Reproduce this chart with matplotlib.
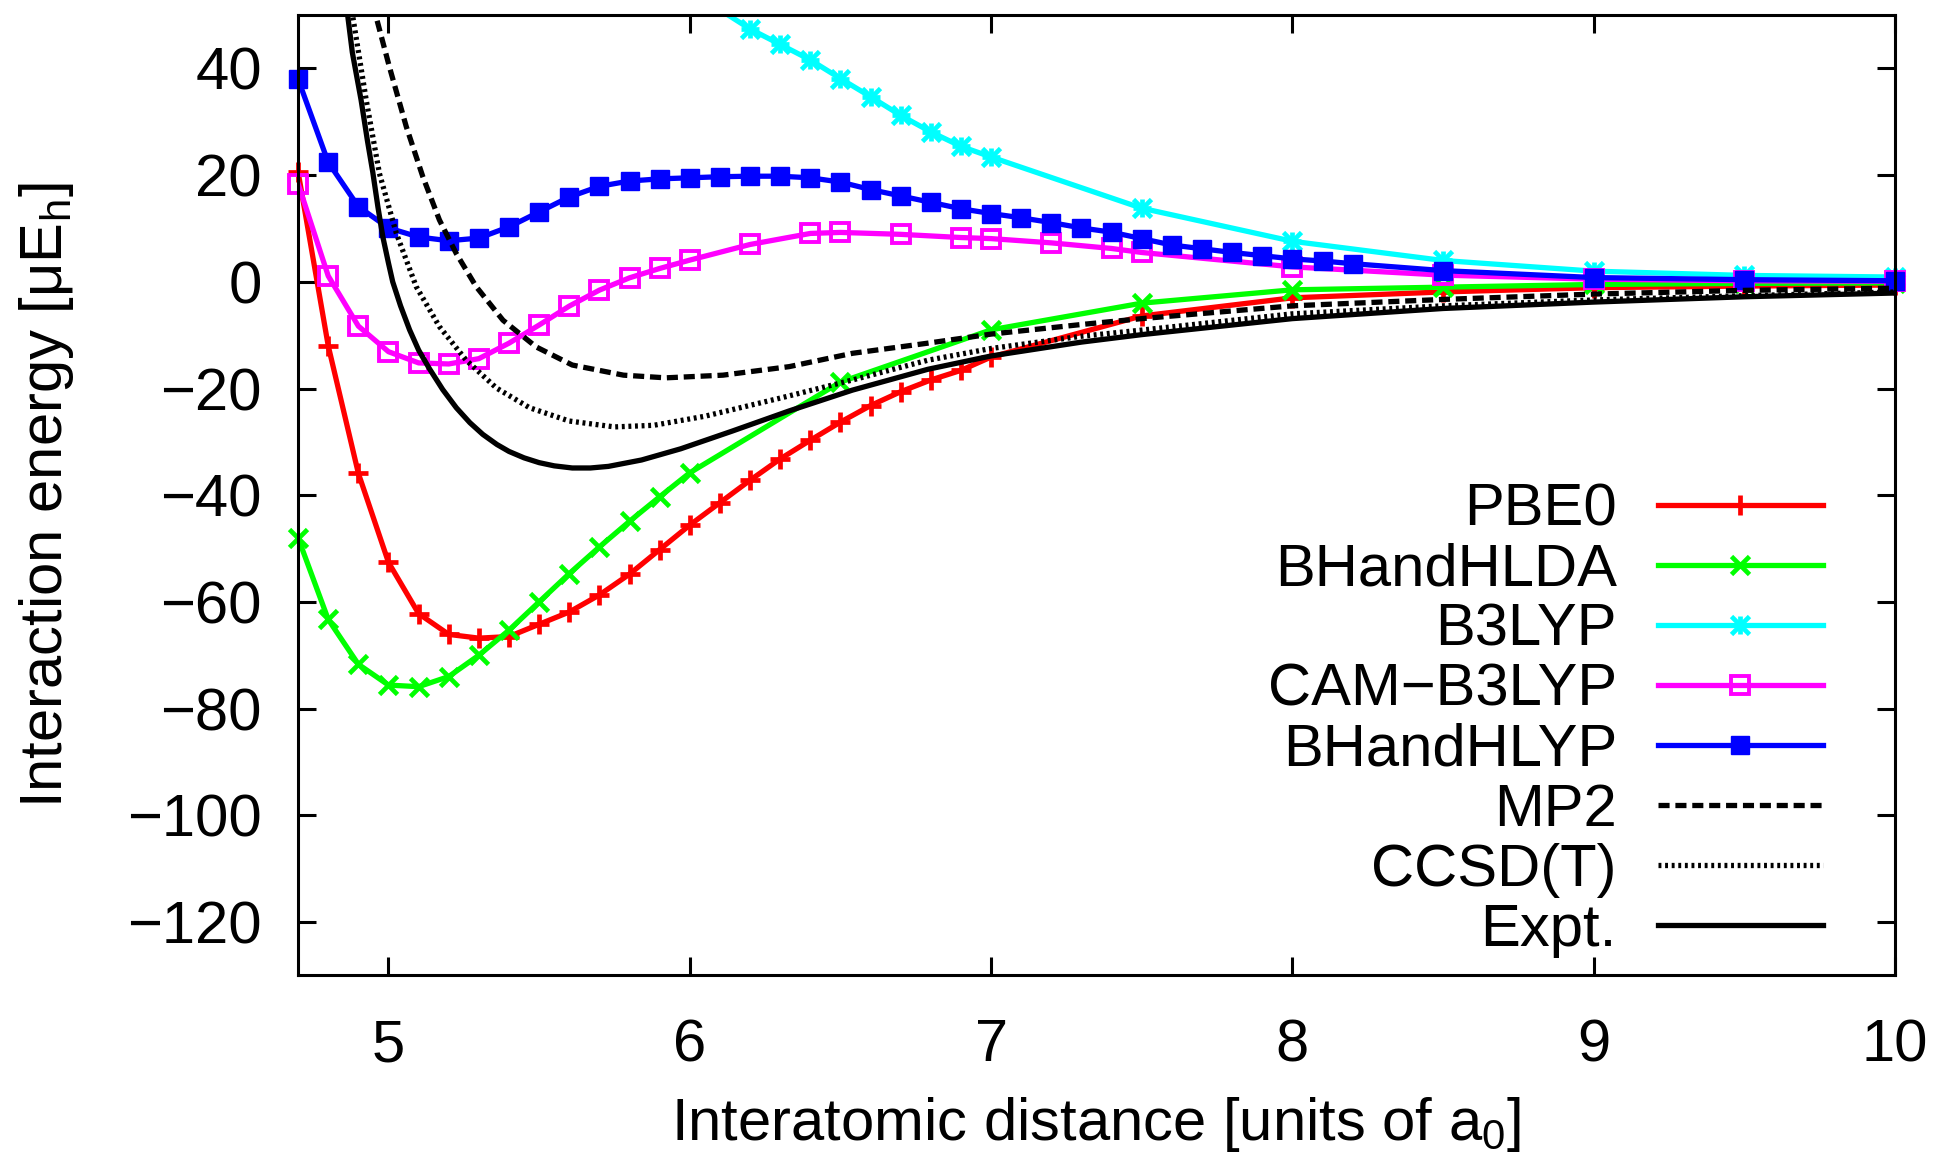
import numpy as np
import matplotlib
matplotlib.use("Agg")
import matplotlib.pyplot as plt
from matplotlib.lines import Line2D
from matplotlib.legend_handler import HandlerTuple

plt.rcParams['font.family'] = ['Liberation Sans', 'DejaVu Sans']
plt.rcParams['font.size'] = 43
plt.rcParams['axes.linewidth'] = 2.2

# ---------- dane ----------
x_pbe0 = [4.7, 4.8, 4.9, 5.0, 5.1, 5.2, 5.3, 5.4, 5.5, 5.6, 5.7, 5.8, 5.9, 6.0,
          6.1, 6.2, 6.3, 6.4, 6.5, 6.6, 6.7, 6.8, 6.9, 7.0, 7.5, 8.0, 8.5, 9.0, 9.5, 10.0]
y_pbe0 = [20.6, -12.0, -35.9, -52.6, -62.2, -66.1, -66.8, -66.5, -64.2, -61.9, -58.7, -54.8,
          -50.2, -45.6, -41.4, -37.2, -33.2, -29.7, -26.3, -23.2, -20.6, -18.4, -16.6, -14.1,
          -6.4, -3.0, -1.9, -1.1, -0.8, -0.6]

x_bhhlda = [4.7, 4.8, 4.9, 5.0, 5.1, 5.2, 5.3, 5.4, 5.5, 5.6, 5.7, 5.8, 5.9, 6.0,
            6.5, 7.0, 7.5, 8.0, 8.5, 9.0, 9.5, 10.0]
y_bhhlda = [-48.0, -63.3, -71.7, -75.6, -75.9, -74.0, -70.0, -65.3, -60.0, -54.7, -49.7,
            -44.9, -40.3, -35.8, -18.8, -9.0, -4.0, -1.5, -1.0, -0.5, -0.3, -0.2]

x_b3lyp = [6.1, 6.2, 6.3, 6.4, 6.5, 6.6, 6.7, 6.8, 6.9, 7.0, 7.5, 8.0, 8.5, 9.0, 9.5, 10.0]
y_b3lyp = [51.0, 47.4, 44.5, 41.6, 38.1, 34.7, 31.2, 28.1, 25.4, 23.4, 13.8, 7.6, 4.0, 2.0, 1.2, 0.9]

x_cam = [4.7, 4.8, 4.9, 5.0, 5.1, 5.2, 5.3, 5.4, 5.5, 5.6, 5.7, 5.8, 5.9, 6.0,
         6.2, 6.4, 6.5, 6.7, 6.9, 7.0, 7.2, 7.4, 7.5, 8.0, 8.5, 9.0, 9.5, 10.0]
y_cam = [18.4, 1.1, -8.3, -13.1, -15.2, -15.4, -14.4, -11.5, -8.1, -4.55, -1.56, 0.75, 2.5,
         4.07, 7.0, 9.07, 9.26, 8.9, 8.3, 8.1, 7.3, 6.25, 5.5, 2.8, 1.25, 0.5, 0.2, 0.1]

x_bhhlyp = [4.7, 4.8, 4.9, 5.0, 5.1, 5.2, 5.3, 5.4, 5.5, 5.6, 5.7, 5.8, 5.9, 6.0,
            6.1, 6.2, 6.3, 6.4, 6.5, 6.6, 6.7, 6.8, 6.9, 7.0, 7.1, 7.2, 7.3, 7.4,
            7.5, 7.6, 7.7, 7.8, 7.9, 8.0, 8.1, 8.2, 8.5, 9.0, 9.5, 10.0]
y_bhhlyp = [38.0, 22.4, 14.1, 10.1, 8.4, 7.7, 8.2, 10.3, 13.1, 15.9, 17.9, 18.9, 19.3, 19.5,
            19.7, 19.8, 19.8, 19.5, 18.7, 17.3, 16.1, 14.9, 13.7, 12.8, 12.0, 11.1, 10.1, 9.3,
            8.1, 6.9, 6.2, 5.5, 4.9, 4.3, 3.9, 3.4, 2.1, 0.8, 0.4, 0.2]

x_mp2 = [4.948, 5.003, 5.059, 5.114, 5.169, 5.225, 5.291, 5.38, 5.49, 5.61, 5.78, 5.92,
         6.11, 6.33, 6.54, 6.79, 7.0, 7.3, 7.5, 8.0, 8.5, 9.0, 9.5, 10.0]
y_mp2 = [52.0, 40.3, 29.1, 19.7, 11.6, 5.3, -0.9, -7.2, -12.2, -15.6, -17.5, -18.0,
         -17.5, -15.9, -13.4, -11.5, -9.8, -8.0, -6.9, -4.5, -3.3, -2.3, -1.6, -1.2]

x_ccsdt = [4.875, 4.926, 4.970, 5.026, 5.092, 5.169, 5.258, 5.358, 5.468, 5.60, 5.75, 5.88,
           6.05, 6.30, 6.54, 6.79, 7.0, 7.3, 7.5, 8.0, 8.5, 9.0, 9.5, 10.0]
y_ccsdt = [52.0, 34.1, 20.3, 9.1, -0.9, -8.4, -14.7, -19.9, -23.6, -26.1, -27.2, -26.9,
           -25.2, -21.8, -18.4, -14.7, -12.5, -10.2, -9.05, -6.0, -4.5, -3.4, -2.6, -1.9]

x_expt = [4.86, 4.88, 4.909, 4.93, 4.948, 4.965, 4.981, 5.0, 5.014, 5.04, 5.07, 5.10,
          5.136, 5.18, 5.225, 5.27, 5.313, 5.36, 5.40, 5.45, 5.50, 5.55, 5.61, 5.67,
          5.73, 5.84, 5.97, 6.14, 6.33, 6.54, 6.79, 7.0, 7.3, 7.5, 8.0, 8.5, 9.0, 9.5, 10.0]
y_expt = [52.0, 43.0, 34.1, 26.5, 20.5, 14.0, 8.5, 3.5, 0.0, -4.5, -9.0, -12.8,
          -16.3, -20.2, -23.6, -26.4, -28.6, -30.5, -31.8, -33.0, -33.9, -34.5, -34.9, -34.9,
          -34.6, -33.4, -31.3, -28.0, -24.2, -20.3, -16.4, -13.9, -11.3, -9.9, -6.9, -5.0,
          -3.8, -2.8, -2.1]

x_ticks = [5, 6, 7, 8, 9, 10]
y_ticks = [-120, -100, -80, -60, -40, -20, 0, 20, 40]

# ---------- wykres ----------
x_min, x_max = 4.7, 10.0
y_min, y_max = -130, 50
lw = 3.8

fig = plt.figure(figsize=(19.42, 11.62), dpi=100)
ax = fig.add_axes([0.1535, 0.1607, 0.8223, 0.8263])


def series(x, y, color, markers, ms, mew, mfc=None):
    x = np.asarray(x)
    y = np.asarray(y)
    ax.plot(x, y, color=color, lw=lw)
    inside = y <= y_max
    for m in markers:
        ax.plot(x[inside], y[inside], ls='none', marker=m, ms=ms, mew=mew,
                color=color, mfc=mfc if mfc else color, clip_on=False)
    hs = [Line2D([], [], color=color, lw=lw, marker=markers[0], ms=ms, mew=mew,
                 mfc=mfc if mfc else color)]
    for m in markers[1:]:
        hs.append(Line2D([], [], ls='none', color=color, marker=m, ms=ms, mew=mew))
    return tuple(hs) if len(hs) > 1 else hs[0]


h_pbe0 = series(x_pbe0, y_pbe0, '#ff0000', ['+'], 15, 3.4)
h_bhhlda = series(x_bhhlda, y_bhhlda, '#00ff00', ['x'], 13, 3.4)
h_b3lyp = series(x_b3lyp, y_b3lyp, '#00ffff', ['x', '+'], 13, 3.4)
h_cam = series(x_cam, y_cam, '#ff00ff', ['s'], 13, 2.8, mfc='none')
h_bhhlyp = series(x_bhhlyp, y_bhhlyp, '#0000ff', ['s'], 13, 1)

h_mp2, = ax.plot(x_mp2, y_mp2, color='black', lw=lw, ls=(0, (2.1, 1.1)), dash_capstyle='butt')
h_ccsdt, = ax.plot(x_ccsdt, y_ccsdt, color='black', lw=lw, ls=(0, (0.55, 0.7)), dash_capstyle='butt')
h_expt, = ax.plot(x_expt, y_expt, color='black', lw=lw)

ax.set_xlim(x_min, x_max)
ax.set_ylim(y_min, y_max)
ax.set_xticks(x_ticks)
ax.set_yticks(y_ticks)
ax.tick_params(direction='in', length=13, width=2.2, top=True, right=True)
ax.tick_params(axis='x', pad=31)
ax.tick_params(axis='y', pad=26)

ax.set_xlabel("Interatomic distance [units of a$_{\\mathregular{0}}$]")
ax.set_ylabel("Interaction energy [μE$_{\\mathregular{h}}$]")
ax.xaxis.set_label_coords(0.5, -0.125)
ax.yaxis.set_label_coords(-0.139, 0.5)

handles = [h_pbe0, h_bhhlda, h_b3lyp, h_cam, h_bhhlyp, h_mp2, h_ccsdt, h_expt]
labels = ["PBE0", "BHandHLDA", "B3LYP", "CAM\u2212B3LYP", "BHandHLYP", "MP2", "CCSD(T)", "Expt."]
ax.legend(handles, labels, loc='lower right',
          bbox_to_anchor=(1823 / 1942, 1 - 958 / 1162), bbox_transform=fig.transFigure,
          frameon=False, markerfirst=False, numpoints=1,
          handlelength=2.77, handletextpad=0.68, labelspacing=0.085,
          borderpad=0, borderaxespad=0,
          handler_map={tuple: HandlerTuple(ndivide=1, pad=0)})

plt.savefig("out.png", dpi=100)
